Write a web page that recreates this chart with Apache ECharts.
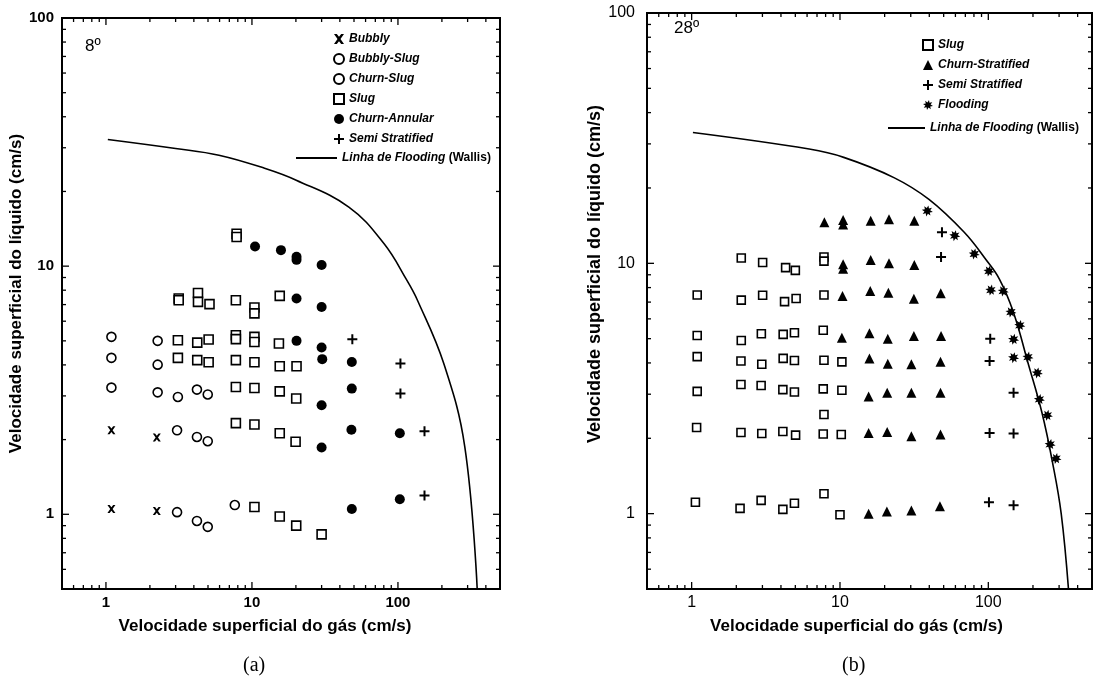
<!DOCTYPE html>
<html>
<head>
<meta charset="utf-8">
<script src="https://cdn.jsdelivr.net/npm/echarts@6/dist/echarts.min.js"></script>
<style>
  html, body { margin: 0; padding: 0; background: #fff; }
  #chart { width: 1095px; height: 686px; }
</style>
</head>
<body>
<div id="chart"></div>
<script>
// ---- data (gas velocity, liquid velocity), cm/s ----
var bubblyA = [[1.09, 2.18], [2.23, 2.04], [1.09, 1.05], [2.23, 1.03]];
var bubblySlugA = [[1.09, 5.19], [2.26, 5.0], [1.09, 4.27], [2.26, 4.01], [1.09, 3.24], [2.26, 3.1]];
var churnSlugA = [[3.11, 2.97], [4.2, 3.18], [4.98, 3.04], [3.07, 2.18], [4.2, 2.05], [4.98, 1.97],
  [3.07, 1.02], [4.2, 0.94], [4.98, 0.89], [7.63, 1.09]];
var slugA = [[7.85, 13.5], [7.85, 13.1], [3.15, 7.41], [3.15, 7.29], [4.27, 7.8], [4.27, 7.18], [5.12, 7.03],
  [7.76, 7.29], [10.4, 6.81], [10.4, 6.45], [15.5, 7.59],
  [3.11, 5.03], [4.22, 4.92], [5.05, 5.06], [7.76, 5.27], [7.76, 5.08], [10.4, 5.19], [10.4, 4.95], [15.3, 4.88],
  [3.11, 4.27], [4.22, 4.18], [5.05, 4.1], [7.76, 4.18], [10.4, 4.1], [15.5, 3.95], [20.2, 3.95],
  [7.76, 3.26], [10.4, 3.23], [15.5, 3.13], [20.1, 2.93],
  [7.76, 2.33], [10.4, 2.3], [15.5, 2.12], [19.9, 1.96],
  [10.4, 1.07], [15.5, 0.98], [20.1, 0.9], [30, 0.83]];
var churnAnnularA = [[10.5, 12.0], [15.8, 11.6], [20.2, 10.9], [20.2, 10.6], [30, 10.1], [20.2, 7.41], [30, 6.85],
  [20.2, 5.0], [30, 4.7], [30.3, 4.22], [48.3, 4.11], [30, 2.75], [48.3, 3.21], [30, 1.86], [48, 2.19],
  [103, 2.12], [48.3, 1.05], [103, 1.15]];
var semiStratA = [[48.7, 5.08], [104, 4.05], [104, 3.07], [152, 2.16], [152, 1.19]];
var wallisA = [[1.03, 32.4], [3, 29.8], [5.94, 28.0], [12.2, 24.8], [20.1, 22.2], [46.1, 17.3], [80.4, 12.3],
  [115, 8.78], [136, 7.29], [206, 4.05], [287, 1.87], [349, 0.5]];

var slugB = [[1.09, 7.47], [2.16, 7.13], [3.01, 7.45], [4.23, 7.03], [5.06, 7.24], [7.8, 7.47],
  [2.16, 10.5], [3.01, 10.07], [4.3, 9.61], [5.0, 9.37], [7.8, 10.6], [7.8, 10.2],
  [1.09, 5.15], [2.16, 4.92], [2.95, 5.23], [4.14, 5.2], [4.93, 5.28], [7.71, 5.4],
  [1.09, 4.24], [2.15, 4.07], [2.97, 3.95], [4.14, 4.17], [4.93, 4.09], [7.8, 4.1], [10.3, 4.04],
  [1.09, 3.08], [2.15, 3.28], [2.94, 3.25], [4.12, 3.13], [4.93, 3.06], [7.71, 3.15], [10.3, 3.11],
  [7.8, 2.49],
  [1.08, 2.21], [2.15, 2.11], [2.97, 2.09], [4.12, 2.13], [5.02, 2.06], [7.71, 2.08], [10.2, 2.07],
  [1.06, 1.11], [2.12, 1.05], [2.94, 1.13], [4.12, 1.04], [4.93, 1.1], [7.8, 1.2], [10.0, 0.99]];
var churnStratB = [[7.85, 14.6], [10.5, 14.9], [10.5, 14.3], [16.1, 14.8], [21.4, 15.0], [31.7, 14.8],
  [10.5, 9.91], [10.5, 9.52], [16.1, 10.3], [21.4, 10.0], [31.7, 9.85],
  [10.4, 7.4], [16.0, 7.75], [21.2, 7.63], [31.5, 7.22], [47.8, 7.59],
  [10.3, 5.04], [15.8, 5.25], [21.0, 5.0], [31.5, 5.12], [48.0, 5.12],
  [15.8, 4.17], [21.0, 3.97], [30.3, 3.95], [47.6, 4.04],
  [15.6, 2.94], [20.8, 3.04], [30.3, 3.04], [47.6, 3.04],
  [15.6, 2.1], [20.8, 2.12], [30.3, 2.04], [47.6, 2.07],
  [15.6, 1.0], [20.7, 1.02], [30.3, 1.03], [47.2, 1.07]];
var semiStratB = [[48.7, 13.3], [48.0, 10.6], [103, 5.0], [102, 4.07], [148, 3.04], [102, 2.1], [148, 2.09],
  [101, 1.11], [148, 1.08]];
var floodingB = [[38.8, 16.2], [59.4, 12.9], [80.4, 10.9], [101, 9.31], [104, 7.82], [126, 7.75], [142, 6.39],
  [163, 5.65], [148, 4.97], [148, 4.2], [185, 4.22], [214, 3.65], [221, 2.86], [250, 2.47], [261, 1.89], [286, 1.66]];
var wallisB = [[1.02, 33.3], [6.2, 28.6], [10.6, 26.5], [23.1, 22.0], [39.8, 18.0], [68.8, 13.3], [95.7, 10.4],
  [119, 8.63], [148, 6.35], [185, 4.01], [230, 2.53], [271, 1.6], [310, 1.0], [347, 0.5]];

var xTickLabels = [1, 10, 100];
var yTickLabels = [1, 10, 100];
var decades = [0.1, 1, 10, 100];
var X_MIN = 0.5, X_MAX = 500, Y_MIN = 0.5, Y_MAX = 100;

var legendA = ['Bubbly', 'Bubbly-Slug', 'Churn-Slug', 'Slug', 'Churn-Annular', 'Semi Stratified'];
var legendB = ['Slug', 'Churn-Stratified', 'Semi Stratified', 'Flooding'];
var lineName = 'Linha de Flooding (Wallis)';

// ---- symbols ----
var crossPath = 'path://M0,0 L2.8,0 L5,2.8 L7.2,0 L10,0 L6.5,5 L10,10 L7.2,10 L5,7.2 L2.8,10 L0,10 L3.5,5 Z';
var plusPath = 'path://M4,0 H6 V4 H10 V6 H6 V10 H4 V6 H0 V4 H4 Z';
var starPath = (function () {
  var pts = [];
  for (var i = 0; i < 16; i++) {
    var r = i % 2 ? 2.6 : 5;
    var a = Math.PI * i / 8 + Math.PI / 16;
    pts.push((5 + r * Math.cos(a)).toFixed(2) + ',' + (5 + r * Math.sin(a)).toFixed(2));
  }
  return 'path://M' + pts.join(' L') + ' Z';
})();

// log tick positions for the frame ticks
function tickData(lo, hi, kind) {
  var out = [];
  decades.forEach(function (d) {
    for (var m = 1; m < 10; m++) {
      var v = +(d * m).toPrecision(3);
      if (v > lo && v < hi) {
        out.push(kind === 0 ? [v, Y_MIN, m === 1 ? 1 : 0, 0] : [X_MIN, v, m === 1 ? 1 : 0, 1]);
      }
    }
  });
  return out;
}
var frameTicks = tickData(X_MIN, X_MAX, 0).concat(tickData(Y_MIN, Y_MAX, 1));

function renderTick(params, api) {
  var major = api.value(2), kind = api.value(3);
  var len = major ? 7 : 4;
  var st = { stroke: '#000', lineWidth: 1.3 };
  var p, q;
  if (kind === 0) {
    p = api.coord([api.value(0), Y_MIN]);
    q = api.coord([api.value(0), Y_MAX]);
    return { type: 'group', children: [
      { type: 'line', shape: { x1: p[0], y1: p[1], x2: p[0], y2: p[1] - len }, style: st },
      { type: 'line', shape: { x1: q[0], y1: q[1], x2: q[0], y2: q[1] + len }, style: st }
    ] };
  }
  p = api.coord([X_MIN, api.value(1)]);
  q = api.coord([X_MAX, api.value(1)]);
  return { type: 'group', children: [
    { type: 'line', shape: { x1: p[0], y1: p[1], x2: p[0] + len, y2: p[1] }, style: st },
    { type: 'line', shape: { x1: q[0], y1: q[1], x2: q[0] - len, y2: q[1] }, style: st }
  ] };
}

var FONT = '"Liberation Sans", Arial, sans-serif';
var openStyle = { color: '#fff', borderColor: '#000', borderWidth: 1.6, opacity: 1 };
var fillStyle = { color: '#000', opacity: 1 };

function scatter(name, data, idx, symbol, size, style) {
  return { name: name, type: 'scatter', xAxisIndex: idx, yAxisIndex: idx, data: data,
    symbol: symbol, symbolSize: size, itemStyle: style, z: 3 };
}
function wallis(data, idx) {
  return { name: lineName, type: 'line', xAxisIndex: idx, yAxisIndex: idx, data: data,
    smooth: 0.4, showSymbol: false, symbol: 'none', lineStyle: { color: '#000', width: 1.6 },
    itemStyle: { color: '#000' }, z: 2 };
}

function xAxis(idx, bold, padRight) {
  return {
    type: 'log', logBase: 10, gridIndex: idx, min: X_MIN, max: X_MAX,
    splitLine: { show: false }, axisLine: { show: false }, axisTick: { show: false },
    axisLabel: { margin: 6, color: '#000', fontFamily: FONT, fontSize: bold ? 15 : 16, fontWeight: bold ? 'bold' : 'normal',
      formatter: function (v) { return xTickLabels.indexOf(v) >= 0 ? String(v) : ''; } },
    name: 'Velocidade superficial do gás (cm/s)', nameLocation: 'middle', nameGap: 29,
    nameTextStyle: { color: '#000', fontFamily: FONT, fontSize: 17, fontWeight: 'bold', padding: [0, padRight, 0, 0] }
  };
}
function yAxis(idx, bold, margin, gap, size, padLeft) {
  return {
    type: 'log', logBase: 10, gridIndex: idx, min: Y_MIN, max: Y_MAX,
    splitLine: { show: false }, axisLine: { show: false }, axisTick: { show: false },
    axisLabel: { margin: margin, color: '#000', fontFamily: FONT, fontSize: bold ? 15 : 16, fontWeight: bold ? 'bold' : 'normal',
      formatter: function (v) { return yTickLabels.indexOf(v) >= 0 ? String(v) : ''; } },
    name: 'Velocidade superficial do líquido (cm/s)', nameLocation: 'middle', nameGap: gap,
    nameTextStyle: { color: '#000', fontFamily: FONT, fontSize: size, fontWeight: 'bold', padding: [0, 0, 0, padLeft] }
  };
}

var legendText = { color: '#000', fontFamily: FONT, fontSize: 12, fontWeight: 'bold', fontStyle: 'italic' };
var lineLegendText = {
  color: '#000', fontFamily: FONT, fontSize: 12,
  rich: {
    it: { fontFamily: FONT, fontSize: 12, fontWeight: 'bold', fontStyle: 'italic', color: '#000' },
    nm: { fontFamily: FONT, fontSize: 12, fontWeight: 'bold', fontStyle: 'normal', color: '#000' }
  }
};
function lineFormatter() { return '{it|Linha de Flooding} {nm|(Wallis)}'; }

var chart = echarts.init(document.getElementById('chart'), null, { renderer: 'canvas' });
chart.setOption({
  animation: false,
  backgroundColor: '#fff',
  grid: [
    { left: 62, top: 18, width: 438, height: 571, show: true, borderColor: '#000', borderWidth: 2, backgroundColor: 'transparent' },
    { left: 647, top: 13, width: 445, height: 576, show: true, borderColor: '#000', borderWidth: 2, backgroundColor: 'transparent' }
  ],
  xAxis: [xAxis(0, true, 32), xAxis(1, false, 26)],
  yAxis: [yAxis(0, true, 8, 28, 17, 20), yAxis(1, false, 12, 37, 18, 54)],
  legend: [
    { orient: 'vertical', left: 328, top: 28, itemWidth: 10, itemHeight: 10, itemGap: 8,
      data: legendA, textStyle: legendText, selectedMode: false },
    { orient: 'vertical', left: 291, top: 147, itemWidth: 41, itemHeight: 2, itemGap: 8,
      data: [{ name: lineName, icon: 'rect' }], formatter: lineFormatter, textStyle: lineLegendText, selectedMode: false },
    { orient: 'vertical', left: 917, top: 34, itemWidth: 10, itemHeight: 10, itemGap: 8,
      data: legendB, textStyle: legendText, selectedMode: false },
    { orient: 'vertical', left: 883, top: 117, itemWidth: 37, itemHeight: 2, itemGap: 8,
      data: [{ name: lineName, icon: 'rect' }], formatter: lineFormatter, textStyle: lineLegendText, selectedMode: false }
  ],
  graphic: [
    { type: 'text', left: 85, top: 38, style: { text: '8º', fontFamily: FONT, fontSize: 17, fill: '#000' } },
    { type: 'text', left: 674, top: 20, style: { text: '28º', fontFamily: FONT, fontSize: 17, fill: '#000' } },
    { type: 'text', left: 243, top: 656, style: { text: '(a)', fontFamily: '"Liberation Serif", "Times New Roman", serif', fontSize: 20, fill: '#000' } },
    { type: 'text', left: 842, top: 656, style: { text: '(b)', fontFamily: '"Liberation Serif", "Times New Roman", serif', fontSize: 20, fill: '#000' } }
  ],
  series: [
    { type: 'custom', name: 'ticksA', xAxisIndex: 0, yAxisIndex: 0, data: frameTicks, renderItem: renderTick, silent: true, z: 5 },
    { type: 'custom', name: 'ticksB', xAxisIndex: 1, yAxisIndex: 1, data: frameTicks, renderItem: renderTick, silent: true, z: 5 },
    wallis(wallisA, 0),
    scatter('Bubbly', bubblyA, 0, crossPath, 8, fillStyle),
    scatter('Bubbly-Slug', bubblySlugA, 0, 'circle', 9, openStyle),
    scatter('Churn-Slug', churnSlugA, 0, 'circle', 9, openStyle),
    scatter('Slug', slugA, 0, 'rect', 9, openStyle),
    scatter('Churn-Annular', churnAnnularA, 0, 'circle', 10, fillStyle),
    scatter('Semi Stratified', semiStratA, 0, plusPath, 10, fillStyle),
    wallis(wallisB, 1),
    scatter('Slug', slugB, 1, 'rect', 8, openStyle),
    scatter('Churn-Stratified', churnStratB, 1, 'triangle', 10, fillStyle),
    scatter('Semi Stratified', semiStratB, 1, plusPath, 10, fillStyle),
    scatter('Flooding', floodingB, 1, starPath, 11, fillStyle)
  ]
});
</script>
</body>
</html>
